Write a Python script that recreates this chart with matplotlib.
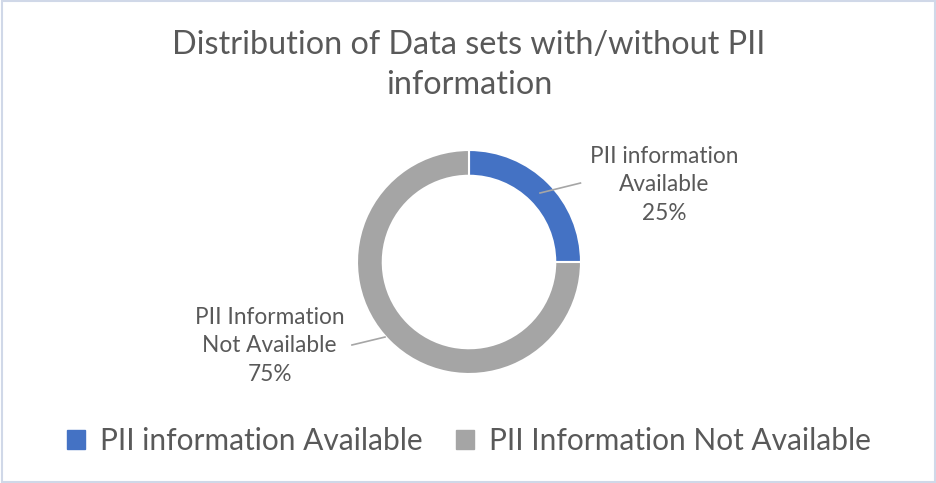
import matplotlib.pyplot as plt
import numpy as np

title = 'Distribution of Data sets with/without PII\ninformation'
labels = ['PII information Available', 'PII Information Not Available']
slice_labels = ['PII information\nAvailable', 'PII Information\nNot Available']
values = [25, 75]
colors = ['#4472C4', '#A5A5A5']

plt.rcParams['font.family'] = ['Lato', 'DejaVu Sans']
txt = '#595959'

W, H = 937, 483
fig = plt.figure(figsize=(W / 100, H / 100), dpi=100)

# donut centre / radius in pixels
cx, cy, r = 469, 262, 112
half = 150
ax = fig.add_axes([(cx - half) / W, (H - cy - half) / H, 2 * half / W, 2 * half / H])
wedges, _ = ax.pie(values, colors=colors, startangle=90, counterclock=False,
                   radius=1, wedgeprops=dict(width=0.23, edgecolor='white', linewidth=1.5))
ax.set_xlim(-half / r, half / r)
ax.set_ylim(-half / r, half / r)
ax.set_aspect('equal')
ax.axis('off')

# data labels with leader lines
lab_pos = [(1.74, 0.69), (-1.78, -0.75)]
line_end = [(0.995, 0.705), (-1.045, -0.741)]
line_start = [(0.634, 0.616), (-0.75, -0.67)]
for i in range(len(values)):
    ax.plot([line_start[i][0], line_end[i][0]], [line_start[i][1], line_end[i][1]],
            color='#A6A6A6', lw=1.2, clip_on=False)
    ax.text(lab_pos[i][0], lab_pos[i][1], f'{slice_labels[i]}\n{values[i]}%',
            ha='center', va='center', fontsize=16.3, color=txt, linespacing=1.45,
            clip_on=False)

fig.text(cx / W, 1 - 65 / H, title, ha='center', va='center', fontsize=23.3,
         color=txt, linespacing=1.4)

handles = [plt.Rectangle((0, 0), 1, 1, color=c) for c in colors]
fig.legend(handles, labels, loc='center', bbox_to_anchor=(cx / W, 1 - 441 / H),
           ncol=2, frameon=False, fontsize=21.5, labelcolor=txt,
           handlelength=0.6, handleheight=0.6, handletextpad=0.5, columnspacing=1.1)

# chart border
fig.patches.append(plt.Rectangle((0.002, 0.002), 0.996, 0.996, transform=fig.transFigure,
                                 fill=False, edgecolor='#D0D8E8', lw=1.5))

fig.savefig('out.png', dpi=100)
